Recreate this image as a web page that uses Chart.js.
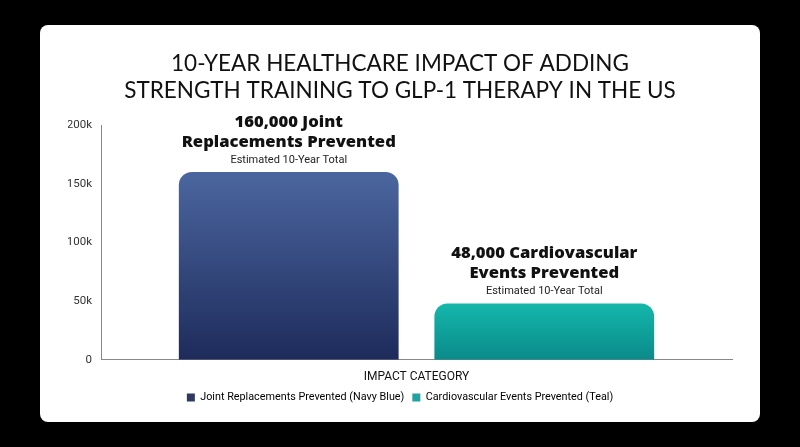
<!DOCTYPE html>
<html>
<head>
<meta charset="utf-8">
<script src="https://cdn.jsdelivr.net/npm/chart.js@4.4.1/dist/chart.umd.min.js"></script>
<style>
  html, body { margin: 0; padding: 0; background: #000; width: 800px; height: 447px; overflow: hidden; }
  #card { position: absolute; left: 40px; top: 25px; width: 720px; height: 397px; background: #fff; border-radius: 8px; overflow: hidden; }
  #c { display: block; }
</style>
</head>
<body>
<div id="card"><canvas id="c" width="720" height="397"></canvas></div>
<script>
const categories = ["Impact Category"];
const seriesNames = ["Joint Replacements Prevented (Navy Blue)", "Cardiovascular Events Prevented (Teal)"];
const jointValues = [160000];
const cardioValues = [48000];
const headlines = [["160,000 Joint", "Replacements Prevented"], ["48,000 Cardiovascular", "Events Prevented"]];
const sublines = ["Estimated 10-Year Total", "Estimated 10-Year Total"];
const yTicks = [0, 50000, 100000, 150000, 200000];
const yTickLabels = ["0", "50k", "100k", "150k", "200k"];
const titleLines = ["10-YEAR HEALTHCARE IMPACT OF ADDING", "STRENGTH TRAINING TO GLP-1 THERAPY IN THE US"];

function barGrad(c, top, bottom) {
  const chart = c.chart;
  if (!chart.chartArea || !c.parsed) return bottom;
  const y = chart.scales.y;
  const yTop = y.getPixelForValue(c.parsed.y);
  const yBot = y.getPixelForValue(0);
  const g = chart.ctx.createLinearGradient(0, yTop, 0, yBot);
  g.addColorStop(0, top);
  g.addColorStop(1, bottom);
  return g;
}

const annot = {
  id: 'annot',
  afterDatasetsDraw(chart) {
    const ctx = chart.ctx;
    chart.data.datasets.forEach((ds, i) => {
      const bar = chart.getDatasetMeta(i).data[0];
      if (!bar) return;
      ctx.save();
      ctx.textAlign = 'center';
      ctx.textBaseline = 'middle';
      ctx.fillStyle = '#111';
      ctx.font = '800 16.6px "Open Sans"';
      ctx.fillText(headlines[i][0], bar.x, bar.y - 50);
      ctx.fillText(headlines[i][1], bar.x, bar.y - 30);
      ctx.font = '11px Roboto';
      ctx.fillStyle = '#222';
      ctx.fillText(sublines[i], bar.x, bar.y - 12);
      ctx.restore();
    });
  }
};

new Chart(document.getElementById('c'), {
  type: 'bar',
  data: {
    labels: categories,
    datasets: [
      {
        label: seriesNames[0],
        data: jointValues,
        backgroundColor: (c) => barGrad(c, '#4b669f', '#1e2b5b'),
        borderRadius: { topLeft: 13, topRight: 13 },
        borderSkipped: 'bottom'
      },
      {
        label: seriesNames[1],
        data: cardioValues,
        backgroundColor: (c) => barGrad(c, '#14b7ab', '#0a8a8a'),
        borderRadius: { topLeft: 13, topRight: 13 },
        borderSkipped: 'bottom'
      }
    ]
  },
  options: {
    responsive: false,
    animation: false,
    layout: { padding: { left: 28, right: 28, top: 0, bottom: 9 } },
    categoryPercentage: 0.81,
    barPercentage: 0.86,
    plugins: {
      title: {
        display: true,
        text: titleLines,
        color: '#111',
        font: { family: 'Lato', size: 22.5, weight: '400', lineHeight: 1.2 },
        padding: { top: 25, bottom: 21 }
      },
      legend: {
        position: 'bottom',
        labels: {
          boxWidth: 8, boxHeight: 8, color: '#333', padding: 8,
          font: { family: 'Roboto', size: 10.8 },
          generateLabels: (chart) => chart.data.datasets.map((ds, i) => ({
            text: ds.label,
            fillStyle: ['#2e3a60', '#22a3a2'][i],
            strokeStyle: ['#2e3a60', '#22a3a2'][i],
            lineWidth: 0,
            datasetIndex: i
          }))
        }
      },
      tooltip: { enabled: false }
    },
    scales: {
      x: {
        grid: { display: false, drawTicks: false },
        border: { color: '#888', width: 1 },
        ticks: { display: false },
        title: { display: true, text: 'IMPACT CATEGORY', color: '#111', font: { family: 'Roboto', size: 12 }, padding: { top: 10, bottom: 0 } }
      },
      y: {
        min: 0, max: 200000,
        afterFit: (s) => { s.width = 33; },
        afterBuildTicks: (s) => { s.ticks = yTicks.map(v => ({ value: v })); },
        grid: { display: false, drawOnChartArea: false, drawTicks: true, tickLength: 5, color: '#888' },
        border: { color: '#888', width: 1 },
        ticks: {
          color: '#333', padding: 4,
          font: { family: 'Roboto', size: 11.5 },
          callback: (v) => yTickLabels[yTicks.indexOf(v)]
        }
      }
    }
  },
  plugins: [annot]
});
</script>
</body>
</html>
